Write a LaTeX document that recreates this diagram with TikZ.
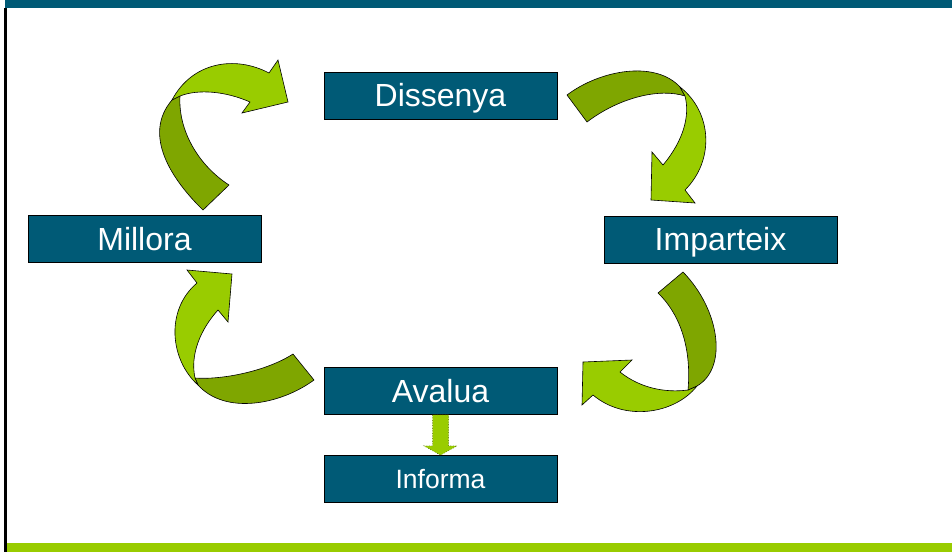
\documentclass[tikz,border=0pt]{standalone}
\usepackage{fontspec}
\setmainfont{Liberation Sans}
\usetikzlibrary{calc}
\definecolor{boxteal}{HTML}{005A76}
\definecolor{lgreen}{HTML}{99CC00}
\definecolor{dgreen}{HTML}{7FA600}
\begin{document}
\begin{tikzpicture}[x=1pt,y=-1pt,
  box/.style={draw=black, line width=0.8pt, fill=boxteal, text=white,
    minimum width=233pt, minimum height=47pt, inner sep=0pt,
    text height=22.8pt, text depth=0pt,
    font=\fontsize{32}{36}\selectfont},
  smallbox/.style={box, text height=19pt, font=\fontsize{26.5}{30}\selectfont},
  band/.style={draw=black, line width=0.6pt, fill=dgreen},
  headpart/.style={draw=black, line width=0.6pt, fill=lgreen},
  blockarrow/.style={draw=dgreen!60!black, dotted, line width=0.6pt, fill=lgreen}]
\useasboundingbox (0,0) rectangle (952,552);
% frame bars
\fill[boxteal] (5,0) rectangle (952,7.5);
\fill[black] (4,7.5) rectangle (7,552);
\fill[lgreen] (7,543) rectangle (952,552);

% curved arrow: Millora -> Dissenya
\draw[band] (203,210) .. controls (172,180) and (142,135) .. (172,100) -- (180,96)
  .. controls (178,130) and (198,165) .. (229,185) -- cycle;
\draw[headpart] (172,100) .. controls (192,62) and (235,55) .. (269,73) -- (278,60)
  -- (288,102) -- (242,113) -- (250,102) .. controls (225,91) and (198,89) .. (180,96) -- cycle;

% curved arrow: Dissenya -> Imparteix
\draw[band] (567,95) .. controls (600,70) and (655,60) .. (680,87) -- (685,96)
  .. controls (660,88) and (620,97) .. (587,122) -- cycle;
\draw[headpart] (680,87) .. controls (712,112) and (715,160) .. (685,190) -- (695,203)
  -- (651,200) -- (652,152) -- (663,165) .. controls (684,140) and (690,115) .. (685,96) -- cycle;

% curved arrow: Imparteix -> Avalua
\draw[headpart] (583,362) -- (632,360) -- (620,372) .. controls (640,388) and (665,393) .. (688,390)
  -- (697,386) .. controls (675,414) and (625,422) .. (593,395) -- (582,405) -- cycle;
\draw[band] (658,293) -- (683,272) .. controls (720,310) and (728,368) .. (697,386) -- (688,390)
  .. controls (692,345) and (678,312) .. (658,293) -- cycle;

% curved arrow: Avalua -> Millora
\draw[band] (293,354) -- (314,380) .. controls (280,405) and (225,415) .. (198,385) -- (195,378)
  .. controls (220,380) and (265,372) .. (293,354) -- cycle;
\draw[headpart] (198,385) .. controls (170,360) and (165,310) .. (197,283) -- (187,270)
  -- (232,274) -- (228,322) -- (218,310) .. controls (200,330) and (190,355) .. (195,378) -- cycle;

% boxes
\node[box] (dissenya) at (440.5,95.5) {Dissenya};
\node[box] (imparteix) at (720.5,239.5) {Imparteix};
\node[box] (millora) at (144.5,239) {Millora};
\node[box] (avalua) at (440.5,391) {Avalua};
\node[smallbox] (informa) at (440.5,479) {Informa};

% block arrow Avalua -> Informa
\draw[blockarrow] ($(avalua.south)+(-8,0)$) -- ($(avalua.south)+(-8,31)$)
  -- ($(avalua.south)+(-16.5,31)$) -- (informa.north) -- ($(avalua.south)+(16.5,31)$)
  -- ($(avalua.south)+(8,31)$) -- ($(avalua.south)+(8,0)$) -- cycle;
\end{tikzpicture}
\end{document}
